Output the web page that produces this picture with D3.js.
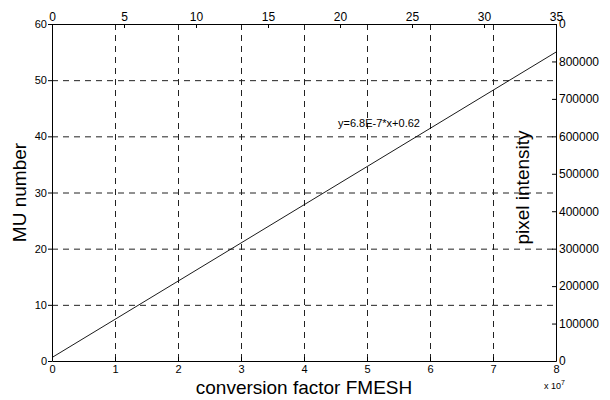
<!DOCTYPE html>
<html>
<head>
<meta charset="utf-8">
<script src="https://cdn.jsdelivr.net/npm/d3@7"></script>
<style>
  body { margin: 0; background: #fff; }
  text { font-family: "Liberation Sans", Arial, sans-serif; fill: #000; }
</style>
</head>
<body>
<div id="chart"></div>
<script>
// fitted line (x in raw units, y in MU)
var lineX = [0, 8e7];
var lineY = [0.62, 55.0];
var fitLabel = "y=6.8E-7*x+0.62";

var bottomTicks = [0, 1, 2, 3, 4, 5, 6, 7, 8];          // x 10^7
var leftTicks = [0, 10, 20, 30, 40, 50, 60];
var topTicks = [0, 5, 10, 15, 20, 25, 30, 35];
var rightTicks = [0, 100000, 200000, 300000, 400000, 500000, 600000, 700000, 800000, 900000];
var rightTickLabels = ["0", "100000", "200000", "300000", "400000", "500000", "600000", "700000", "800000", "0"];

var W = 610, H = 400;
var margin = {top: 24, right: 54, bottom: 39, left: 52},
    width = W - margin.left - margin.right,
    height = H - margin.top - margin.bottom;

var svg = d3.select("#chart")
  .append("svg")
    .attr("width", W)
    .attr("height", H)
  .append("g")
    .attr("transform", `translate(${margin.left},${margin.top})`);

var x = d3.scaleLinear().domain([0, 8]).range([0, width]);
var xRaw = d3.scaleLinear().domain([0, 8e7]).range([0, width]);
var y = d3.scaleLinear().domain([0, 60]).range([height, 0]);
var xTop = d3.scaleLinear().domain([0, 35]).range([0, width]);
var yRight = d3.scaleLinear().domain([0, 900000]).range([height, 0]);

// dashed grid
var dash = "6,5";
svg.selectAll(".vgrid")
  .data(bottomTicks.slice(1, -1))
  .join("line")
    .attr("x1", d => x(d) + 0.5).attr("x2", d => x(d) + 0.5)
    .attr("y1", 0).attr("y2", height)
    .attr("stroke", "#222").attr("stroke-dasharray", dash);
svg.selectAll(".hgrid")
  .data(leftTicks.slice(1, -1))
  .join("line")
    .attr("x1", 0).attr("x2", width)
    .attr("y1", d => y(d) + 0.5).attr("y2", d => y(d) + 0.5)
    .attr("stroke", "#222").attr("stroke-dasharray", dash);

// axes
var fs = "11px";
var gBottom = svg.append("g")
  .attr("transform", `translate(0,${height})`)
  .call(d3.axisBottom(x).tickValues(bottomTicks).tickSizeInner(-4).tickSizeOuter(0).tickPadding(4));
var gLeft = svg.append("g")
  .call(d3.axisLeft(y).tickValues(leftTicks).tickSizeInner(4).tickSizeOuter(0).tickPadding(1));
var gTop = svg.append("g")
  .call(d3.axisTop(xTop).tickValues(topTicks).tickSizeInner(-4).tickSizeOuter(0).tickPadding(3));
var gRight = svg.append("g")
  .attr("transform", `translate(${width},0)`)
  .call(d3.axisRight(yRight).tickValues(rightTicks).tickSizeInner(-4).tickSizeOuter(0).tickPadding(3)
    .tickFormat((d, i) => rightTickLabels[i]));

[gBottom, gLeft, gTop, gRight].forEach(g => {
  g.select(".domain").attr("stroke", "#000");
  g.selectAll(".tick line").attr("stroke", "#000");
  g.selectAll("text")
    .style("font-family", '"Liberation Sans", Arial, sans-serif')
    .style("font-size", fs)
    .attr("fill", "#000");
});
gTop.selectAll("text").style("font-size", "12px");
gRight.selectAll("text").style("font-size", "12px");

// fitted line
var pts = lineX.map((v, i) => [v, lineY[i]]);
svg.append("path")
  .datum(pts)
  .attr("fill", "none")
  .attr("stroke", "#000")
  .attr("stroke-width", 0.9)
  .attr("d", d3.line().x(d => xRaw(d[0])).y(d => y(d[1])));

// annotation
svg.append("text")
  .attr("x", 286).attr("y", 103)
  .style("font-size", "11px")
  .text(fitLabel);

// axis titles
svg.append("text")
  .attr("x", width / 2).attr("y", height + 33)
  .attr("text-anchor", "middle")
  .style("font-size", "19px")
  .text("conversion factor FMESH");

svg.append("text")
  .attr("transform", `translate(-26,${height / 2}) rotate(-90)`)
  .attr("text-anchor", "middle")
  .style("font-size", "19px")
  .text("MU number");

svg.append("text")
  .attr("transform", `translate(${width - 27},${height / 2 - 5}) rotate(-90)`)
  .attr("text-anchor", "middle")
  .style("font-size", "19px")
  .text("pixel intensity");

var exp = svg.append("text")
  .attr("x", width - 12).attr("y", height + 28)
  .style("font-size", "9px");
exp.append("tspan").text("x 10");
exp.append("tspan").attr("dy", -4).style("font-size", "7px").text("7");
</script>
</body>
</html>
